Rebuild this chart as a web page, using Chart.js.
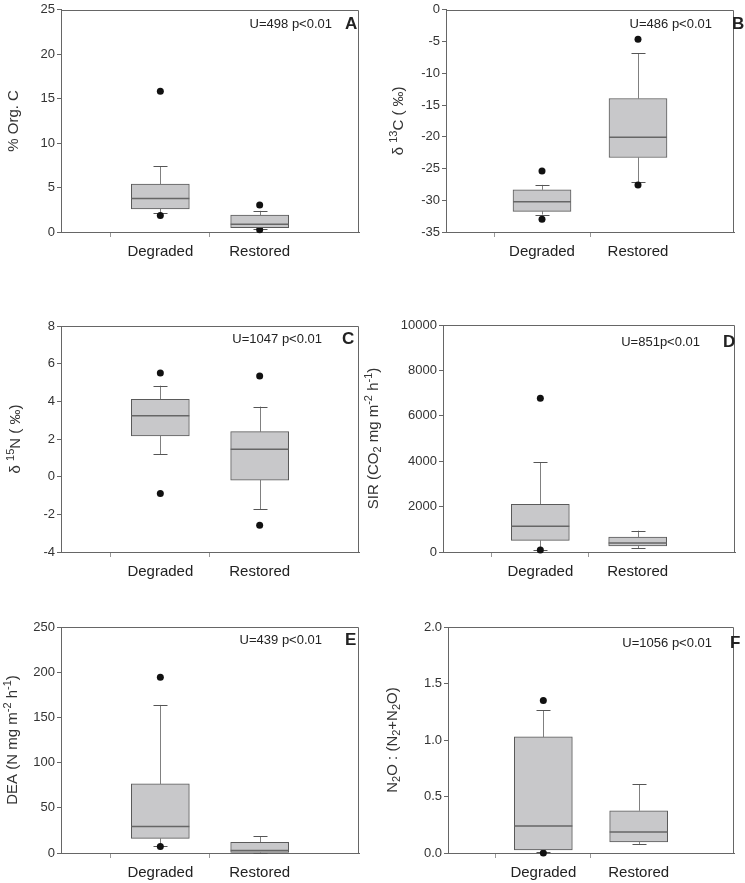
<!DOCTYPE html>
<html>
<head>
<meta charset="utf-8">
<script src="https://cdn.jsdelivr.net/npm/chart.js@4/dist/chart.umd.min.js"></script>
<style>
  body { margin: 0; background: #fff; }
  #wrap { position: relative; width: 745px; height: 883px; overflow: hidden; }
  .panel { position: absolute; }
</style>
</head>
<body>
<div id="wrap"></div>
<script>
// groups on the x axis
const groups = ['Degraded', 'Restored'];

// box stats per group: [whisker low, q1, median, q3, whisker high]
const orgCBoxes = [[2.16, 2.6, 3.77, 5.39, 7.37], [0.35, 0.5, 0.88, 1.9, 2.38]];
const orgCOutliers = [[15.84, 1.87], [3.04, 0.25]];
const orgCTicks = [0, 5, 10, 15, 20, 25];

const d13CBoxes = [[-32.25, -31.74, -30.25, -28.35, -27.58], [-27.2, -23.27, -20.08, -13.97, -6.83]];
const d13COutliers = [[-25.4, -33.0], [-4.62, -27.58]];
const d13CTicks = [-35, -30, -25, -20, -15, -10, -5, 0];

const d15NBoxes = [[1.19, 2.16, 3.24, 4.11, 4.83], [-1.73, -0.18, 1.45, 2.39, 3.72]];
const d15NOutliers = [[5.5, -0.89], [5.34, -2.58]];
const d15NTicks = [-4, -2, 0, 2, 4, 6, 8];

const sirBoxes = [[110, 512, 1129, 2100, 3952], [176, 265, 397, 662, 940]];
const sirOutliers = [[6776, 90], []];
const sirTicks = [0, 2000, 4000, 6000, 8000, 10000];

const deaBoxes = [[8, 16.1, 29.3, 76.4, 163.8], [0.2, 0.7, 2.9, 11.7, 18.3]];
const deaOutliers = [[194.4, 7.2], []];
const deaTicks = [0, 50, 100, 150, 200, 250];

const ratioBoxes = [[0.005, 0.027, 0.24, 1.027, 1.265], [0.08, 0.097, 0.186, 0.374, 0.61]];
const ratioOutliers = [[1.35, 0.0], []];
const ratioTicks = [0, 0.5, 1.0, 1.5, 2.0];

const FONT = 'Arial, "Liberation Sans", sans-serif';
const X_AXIS_H = 30;

// draw a rotated label made of plain / sup / sub pieces
function drawRich(ctx, parts, cx, cy) {
  ctx.save();
  ctx.translate(cx, cy);
  ctx.rotate(-Math.PI / 2);
  ctx.fillStyle = '#333';
  ctx.textBaseline = 'middle';
  ctx.textAlign = 'left';
  let total = 0;
  parts.forEach(p => {
    ctx.font = (p[1] ? '11px ' : '15px ') + FONT;
    total += ctx.measureText(p[0]).width;
  });
  let x = -total / 2;
  parts.forEach(p => {
    ctx.font = (p[1] ? '11px ' : '15px ') + FONT;
    let dy = p[1] === 'sup' ? -5 : p[1] === 'sub' ? 4 : 0;
    ctx.fillText(p[0], x, dy);
    x += ctx.measureText(p[0]).width;
  });
  ctx.restore();
}

const boxExtras = {
  id: 'boxExtras',
  beforeDatasetsDraw(chart, args, o) {
    const ctx = chart.ctx, xs = chart.scales.x, ys = chart.scales.y;
    ctx.save();
    ctx.lineWidth = 1;
    o.boxes.forEach((b, i) => {
      const x = Math.round(xs.getPixelForValue(i + 1)) + 0.5;
      ctx.strokeStyle = '#808080';
      ctx.beginPath();
      ctx.moveTo(x, ys.getPixelForValue(b[0]));
      ctx.lineTo(x, ys.getPixelForValue(b[1]));
      ctx.moveTo(x, ys.getPixelForValue(b[3]));
      ctx.lineTo(x, ys.getPixelForValue(b[4]));
      ctx.stroke();
      ctx.strokeStyle = '#555';
      [b[0], b[4]].forEach(v => {
        const y = Math.round(ys.getPixelForValue(v)) + 0.5;
        ctx.beginPath();
        ctx.moveTo(x - 7, y);
        ctx.lineTo(x + 7, y);
        ctx.stroke();
      });
    });
    ctx.restore();
  },
  afterDatasetsDraw(chart, args, o) {
    const ctx = chart.ctx, xs = chart.scales.x, ys = chart.scales.y;
    const a = chart.chartArea;
    ctx.save();
    // medians
    ctx.strokeStyle = '#666';
    ctx.lineWidth = 1.5;
    o.boxes.forEach((b, i) => {
      const x = xs.getPixelForValue(i + 1);
      const y = ys.getPixelForValue(b[2]);
      ctx.beginPath();
      ctx.moveTo(x - 29, y);
      ctx.lineTo(x + 29, y);
      ctx.stroke();
    });
    // frame on top and right
    ctx.strokeStyle = '#666';
    ctx.lineWidth = 1;
    const t = Math.round(a.top) + 0.5, r = Math.round(a.right) - 0.5;
    ctx.beginPath();
    ctx.moveTo(a.left, t);
    ctx.lineTo(r, t);
    ctx.lineTo(r, a.bottom);
    ctx.stroke();
    // test result and panel letter
    ctx.fillStyle = '#222';
    ctx.textBaseline = 'middle';
    ctx.font = '13px ' + FONT;
    ctx.textAlign = 'right';
    ctx.fillText(o.stat, a.right - o.statRight, a.top + o.textDy);
    ctx.font = 'bold 17px ' + FONT;
    ctx.textAlign = 'left';
    ctx.fillText(o.letter, a.right + o.letterLeft, a.top + o.textDy);
    // y title
    drawRich(ctx, o.title, o.titleX, (a.top + a.bottom) / 2);
    ctx.restore();
  }
};

function panel(cfg) {
  const div = document.createElement('div');
  div.className = 'panel';
  div.style.left = cfg.left + 'px';
  div.style.top = cfg.top + 'px';
  div.style.width = cfg.w + 'px';
  div.style.height = cfg.h + 'px';
  const canvas = document.createElement('canvas');
  div.appendChild(canvas);
  document.getElementById('wrap').appendChild(div);

  const ticks = cfg.ticks;
  const outPts = [];
  cfg.outliers.forEach((list, i) => list.forEach(v => outPts.push({ x: groups[i], y: v })));

  new Chart(canvas, {
    type: 'bar',
    data: {
      labels: ['', ...groups, ''],
      datasets: [{
        data: [null, ...cfg.boxes.map(b => [b[1], b[3]]), null],
        backgroundColor: '#c8c8ca',
        borderColor: '#5a5a5a',
        borderWidth: 1,
        borderSkipped: false,
        barThickness: 58
      }, {
        type: 'scatter',
        data: outPts,
        pointRadius: 3.5,
        pointBackgroundColor: '#111',
        pointBorderWidth: 0,
        clip: false
      }]
    },
    options: {
      responsive: true,
      maintainAspectRatio: false,
      animation: false,
      layout: {
        padding: {
          left: 0,
          top: cfg.plotTop - cfg.top,
          right: cfg.left + cfg.w - cfg.plotRight,
          bottom: cfg.h - X_AXIS_H - (cfg.plotBottom - cfg.top)
        }
      },
      plugins: {
        legend: { display: false },
        tooltip: { enabled: false },
        boxExtras: {
          boxes: cfg.boxes,
          stat: cfg.stat,
          statRight: cfg.statRight,
          letter: cfg.letter,
          letterLeft: cfg.letterLeft,
          textDy: cfg.textDy,
          title: cfg.title,
          titleX: cfg.titleX - cfg.left
        }
      },
      scales: {
        x: {
          offset: false,
          afterFit: s => { s.height = X_AXIS_H; },
          border: { display: true, color: '#666', width: 1 },
          grid: {
            drawOnChartArea: false,
            drawTicks: true,
            tickLength: 5,
            tickColor: c => (c.index === 1 || c.index === 2) ? '#999' : 'transparent'
          },
          ticks: { color: '#222', font: { family: FONT, size: 15 }, padding: 6, maxRotation: 0, autoSkip: false }
        },
        y: {
          min: ticks[0],
          max: ticks[ticks.length - 1],
          afterFit: s => { s.width = cfg.plotLeft - cfg.left; },
          afterBuildTicks: s => { s.ticks = ticks.map(v => ({ value: v })); },
          border: { display: true, color: '#666', width: 1 },
          grid: { drawOnChartArea: false, drawTicks: true, tickLength: 4, color: '#666' },
          ticks: {
            color: '#333',
            font: { family: FONT, size: 13 },
            padding: 2,
            callback: v => cfg.decimals ? v.toFixed(cfg.decimals) : v
          }
        }
      }
    },
    plugins: [boxExtras]
  });
}

panel({ left: 0, top: 0, w: 372, h: 280, plotLeft: 61, plotTop: 5, plotRight: 359, plotBottom: 232,
  boxes: orgCBoxes, outliers: orgCOutliers, ticks: orgCTicks,
  stat: 'U=498 p<0.01', statRight: 27, letter: 'A', letterLeft: -14, textDy: 15,
  title: [['% Org. C']], titleX: 14 });

panel({ left: 362, top: 0, w: 383, h: 280, plotLeft: 446, plotTop: 5, plotRight: 734, plotBottom: 232,
  boxes: d13CBoxes, outliers: d13COutliers, ticks: d13CTicks,
  stat: 'U=486 p<0.01', statRight: 22, letter: 'B', letterLeft: -2, textDy: 15,
  title: [['δ '], ['13', 'sup'], ['C ( ‰)']], titleX: 399 });

panel({ left: 0, top: 285, w: 372, h: 300, plotLeft: 61, plotTop: 326, plotRight: 359, plotBottom: 552,
  boxes: d15NBoxes, outliers: d15NOutliers, ticks: d15NTicks,
  stat: 'U=1047 p<0.01', statRight: 37, letter: 'C', letterLeft: -17, textDy: 13,
  title: [['δ '], ['15', 'sup'], ['N ( ‰)']], titleX: 16 });

panel({ left: 360, top: 285, w: 385, h: 300, plotLeft: 443, plotTop: 325, plotRight: 735, plotBottom: 552,
  boxes: sirBoxes, outliers: sirOutliers, ticks: sirTicks,
  stat: 'U=851p<0.01', statRight: 35, letter: 'D', letterLeft: -12, textDy: 17,
  title: [['SIR (CO'], ['2', 'sub'], [' mg m'], ['-2', 'sup'], [' h'], ['-1', 'sup'], [')']], titleX: 374 });

panel({ left: 0, top: 585, w: 372, h: 305, plotLeft: 61, plotTop: 627, plotRight: 359, plotBottom: 853,
  boxes: deaBoxes, outliers: deaOutliers, ticks: deaTicks,
  stat: 'U=439 p<0.01', statRight: 37, letter: 'E', letterLeft: -14, textDy: 13,
  title: [['DEA (N mg m'], ['-2', 'sup'], [' h'], ['-1', 'sup'], [')']], titleX: 13 });

panel({ left: 362, top: 585, w: 383, h: 305, plotLeft: 448, plotTop: 627, plotRight: 734, plotBottom: 853,
  boxes: ratioBoxes, outliers: ratioOutliers, ticks: ratioTicks, decimals: 1,
  stat: 'U=1056 p<0.01', statRight: 22, letter: 'F', letterLeft: -4, textDy: 16,
  title: [['N'], ['2', 'sub'], ['O : (N'], ['2', 'sub'], ['+N'], ['2', 'sub'], ['O)']], titleX: 393 });
</script>
</body>
</html>
